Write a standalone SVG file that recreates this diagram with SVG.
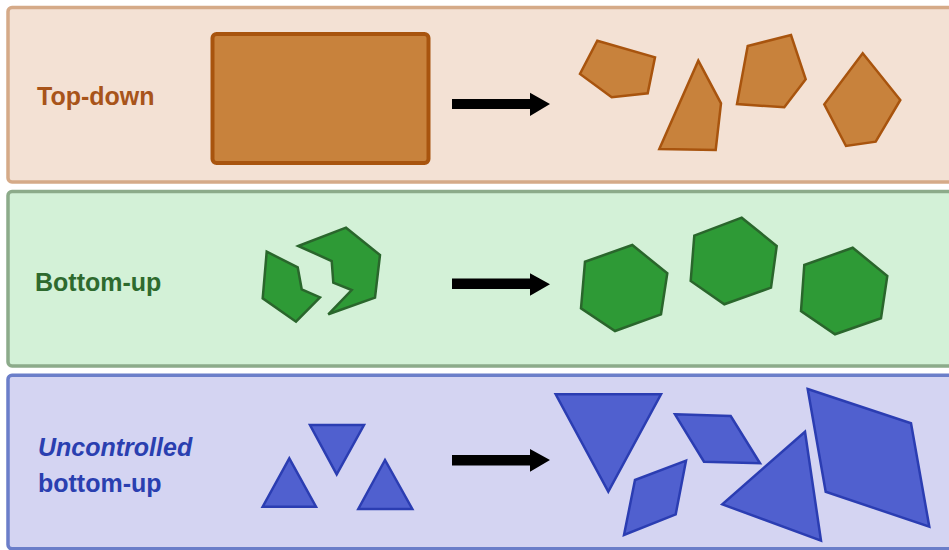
<svg xmlns="http://www.w3.org/2000/svg" width="949" height="550" viewBox="0 0 949 550">
<defs>
<style>
.lbl{font-family:"Liberation Sans","Open Sans",Arial,sans-serif;font-size:25px;font-weight:bold}
.brown{fill:#c8823c;stroke:#a8540e;stroke-width:2.5;stroke-linejoin:miter}
.green{fill:#2e9a36;stroke:#2a662c;stroke-width:2.5}
.blue{fill:#5060cf;stroke:#2b3db2;stroke-width:2.5}
.arrow{fill:#000}
</style>
</defs>
<rect width="949" height="550" fill="#ffffff"/>
<g id="panel-topdown">
<rect x="8" y="7.5" width="960" height="174.5" rx="4" fill="#f3e1d4" stroke="#d5aa88" stroke-width="3.5"/>
<text class="lbl" x="37" y="105" fill="#a8541a">Top-down</text>
<rect x="212.5" y="34" width="216" height="129" rx="4" fill="#c8823c" stroke="#a8540e" stroke-width="4"/>
<polygon class="brown" points="597.3,40.7 655,57.3 647.7,93.3 611.7,97.3 580,74"/>
<polygon class="brown" points="698.3,60.7 721,103.3 715.7,150 659.3,149"/>
<polygon class="brown" points="747.7,46 791,35 805.7,79.3 784.3,107.3 737,104"/>
<polygon class="brown" points="862.7,53.3 900.3,100 875.7,141.7 846,146 824.3,104.3"/>
</g>
<g id="panel-bottomup">
<rect x="8" y="191.5" width="960" height="174.5" rx="4" fill="#d3f1d7" stroke="#8cab8a" stroke-width="3.5"/>
<text class="lbl" x="35" y="291" fill="#2e6a2e">Bottom-up</text>
<polygon class="green" points="266.7,251.7 297.7,267.3 301.7,289.3 320,297.3 296,321.7 262.7,298.3"/>
<polygon class="green" points="298.3,246 346,227.7 380,255 375,297.7 328.3,314.3 351.7,290 333.3,282.7 331.7,261"/>
<polygon class="green" points="585,261.7 632.3,245 667.3,273.3 661,314.3 615,331 581,308.3"/>
<polygon class="green" points="694.3,235.7 741.7,217.7 776.7,246 771,287.7 724.3,304.3 690.7,281"/>
<polygon class="green" points="804.3,265 852.7,247.7 887.3,276 881,318.3 835,334.3 801,311"/>
</g>
<g id="panel-uncontrolled">
<rect x="8" y="375.3" width="960" height="173.5" rx="4" fill="#d4d4f2" stroke="#6b7ec9" stroke-width="3.5"/>
<text class="lbl" x="38" y="456" fill="#2a3fb0" font-style="italic">Uncontrolled</text>
<text class="lbl" x="38" y="492" fill="#2a3fb0">bottom-up</text>
<polygon class="blue" points="289.3,458.3 262.7,506.7 316,506.7"/>
<polygon class="blue" points="310,425 364,425 336.7,474.3"/>
<polygon class="blue" points="385,460 358.3,509 412.3,509"/>
<polygon class="blue" points="555.7,394.3 661,394.3 608.3,491.7"/>
<polygon class="blue" points="675,414.3 730.7,416 760,463.3 704,461.7"/>
<polygon class="blue" points="635,480 686,460.7 675.7,514.3 624,535"/>
<polygon class="blue" points="805,431.7 821,540.7 722.3,504.3"/>
<polygon class="blue" points="807.7,389 911,423.3 929.3,526.7 825.7,491.7"/>
</g>
<g id="connectors">
<polygon class="arrow" points="452,99 530,99 530,92.7 550,104 530,116 530,109 452,109"/>
<polygon class="arrow" points="452,278.5 530,278.5 530,273.3 550,284.3 530,295.7 530,289 452,289"/>
<polygon class="arrow" points="452,455 530,455 530,449 550,460 530,471.7 530,465.5 452,465.5"/>
</g>
</svg>
